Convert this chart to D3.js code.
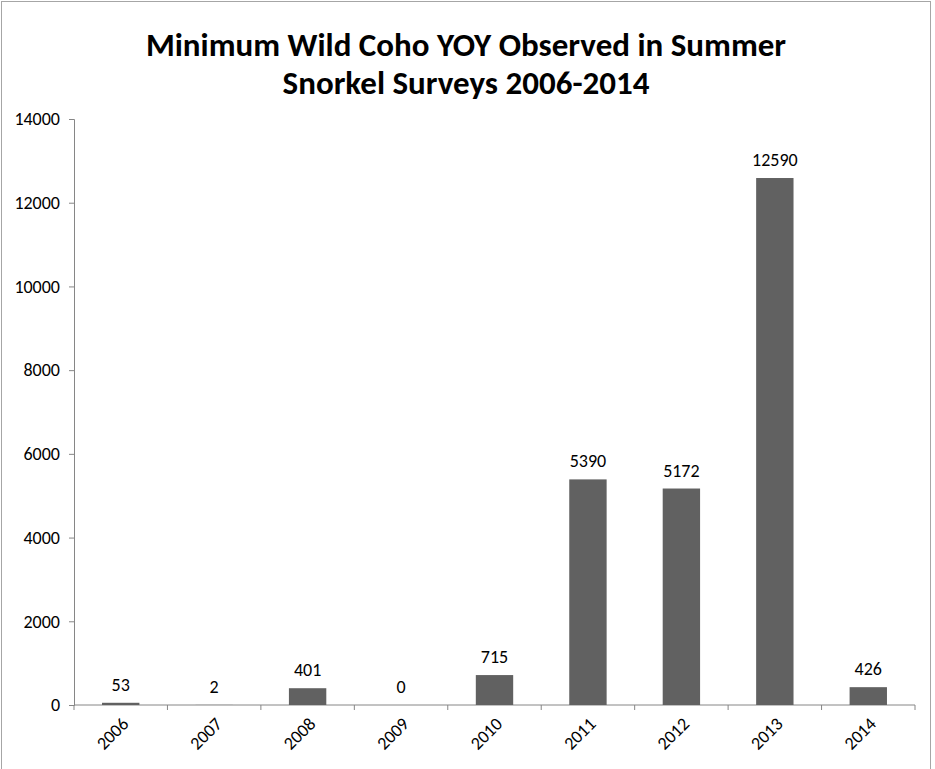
<!DOCTYPE html>
<html>
<head>
<meta charset="utf-8">
<script src="https://cdn.jsdelivr.net/npm/d3@7"></script>
<style>
  body { margin: 0; background: #fff; }
  text { font-family: Carlito, Lato, "Liberation Sans", sans-serif; }
</style>
</head>
<body>
<script>
var years = ["2006","2007","2008","2009","2010","2011","2012","2013","2014"];
var counts = [53, 2, 401, 0, 715, 5390, 5172, 12590, 426];
var yTicks = [0, 2000, 4000, 6000, 8000, 10000, 12000, 14000];
var titleLines = ["Minimum Wild Coho YOY Observed in Summer", "Snorkel Surveys 2006-2014"];

var w = 935, h = 769;
var plotLeft = 74, plotRight = 915, plotTop = 119, plotBottom = 705;

var svg = d3.select("body").append("svg")
    .attr("width", w)
    .attr("height", h);

// chart frame
svg.append("rect")
    .attr("x", 1.5).attr("y", 1.5)
    .attr("width", 929).attr("height", h + 10)
    .attr("fill", "none")
    .attr("stroke", "#a6a6a6");

var x = d3.scaleBand()
    .domain(years)
    .range([plotLeft, plotRight])
    .paddingInner(0.6)
    .paddingOuter(0.3);

var band = d3.scaleBand().domain(years).range([plotLeft, plotRight]);

var y = d3.scaleLinear()
    .domain([0, 14000])
    .range([plotBottom, plotTop]);

svg.selectAll(".title")
    .data(titleLines)
    .enter()
    .append("text")
    .attr("class", "title")
    .attr("x", 466)
    .attr("y", (d, i) => 56 + i * 38)
    .attr("text-anchor", "middle")
    .style("font-size", "33px")
    .style("font-weight", "bold")
    .text(d => d);

// y axis
var yAxis = d3.axisLeft(y).tickValues(yTicks).tickSize(5).tickPadding(9).tickFormat(d3.format("d"));
var gy = svg.append("g").attr("transform", "translate(" + plotLeft + ",0)").call(yAxis);
gy.attr("font-family", null);
gy.select(".domain").attr("stroke", "#868686");
gy.selectAll(".tick line").attr("stroke", "#868686");
gy.selectAll(".tick text").style("font-size", "18px").attr("fill", "#000");

// x axis with ticks at band boundaries
var gx = svg.append("g").attr("transform", "translate(0," + plotBottom + ")");
gx.append("line")
    .attr("x1", plotLeft).attr("x2", plotRight)
    .attr("stroke", "#868686");
gx.selectAll(".xtick")
    .data(years.concat(["end"]))
    .enter()
    .append("line")
    .attr("class", "xtick")
    .attr("x1", (d, i) => plotLeft + i * band.bandwidth())
    .attr("x2", (d, i) => plotLeft + i * band.bandwidth())
    .attr("y1", 0).attr("y2", 5)
    .attr("stroke", "#868686");
gx.selectAll(".xlabel")
    .data(years)
    .enter()
    .append("text")
    .attr("class", "xlabel")
    .attr("text-anchor", "end")
    .attr("transform", d => "translate(" + (band(d) + band.bandwidth() / 2 + 9) + ",20) rotate(-45)")
    .style("font-size", "18px")
    .text(d => d);

// bars
svg.selectAll(".bar")
    .data(counts)
    .enter()
    .append("rect")
    .attr("class", "bar")
    .attr("x", (d, i) => x(years[i]))
    .attr("y", d => y(d))
    .attr("width", x.bandwidth())
    .attr("height", d => y(0) - y(d))
    .attr("fill", "#616161");

svg.selectAll(".val")
    .data(counts)
    .enter()
    .append("text")
    .attr("class", "val")
    .attr("x", (d, i) => x(years[i]) + x.bandwidth() / 2)
    .attr("y", d => y(d) - 12)
    .attr("text-anchor", "middle")
    .style("font-size", "18px")
    .text(d => d);
</script>
</body>
</html>
